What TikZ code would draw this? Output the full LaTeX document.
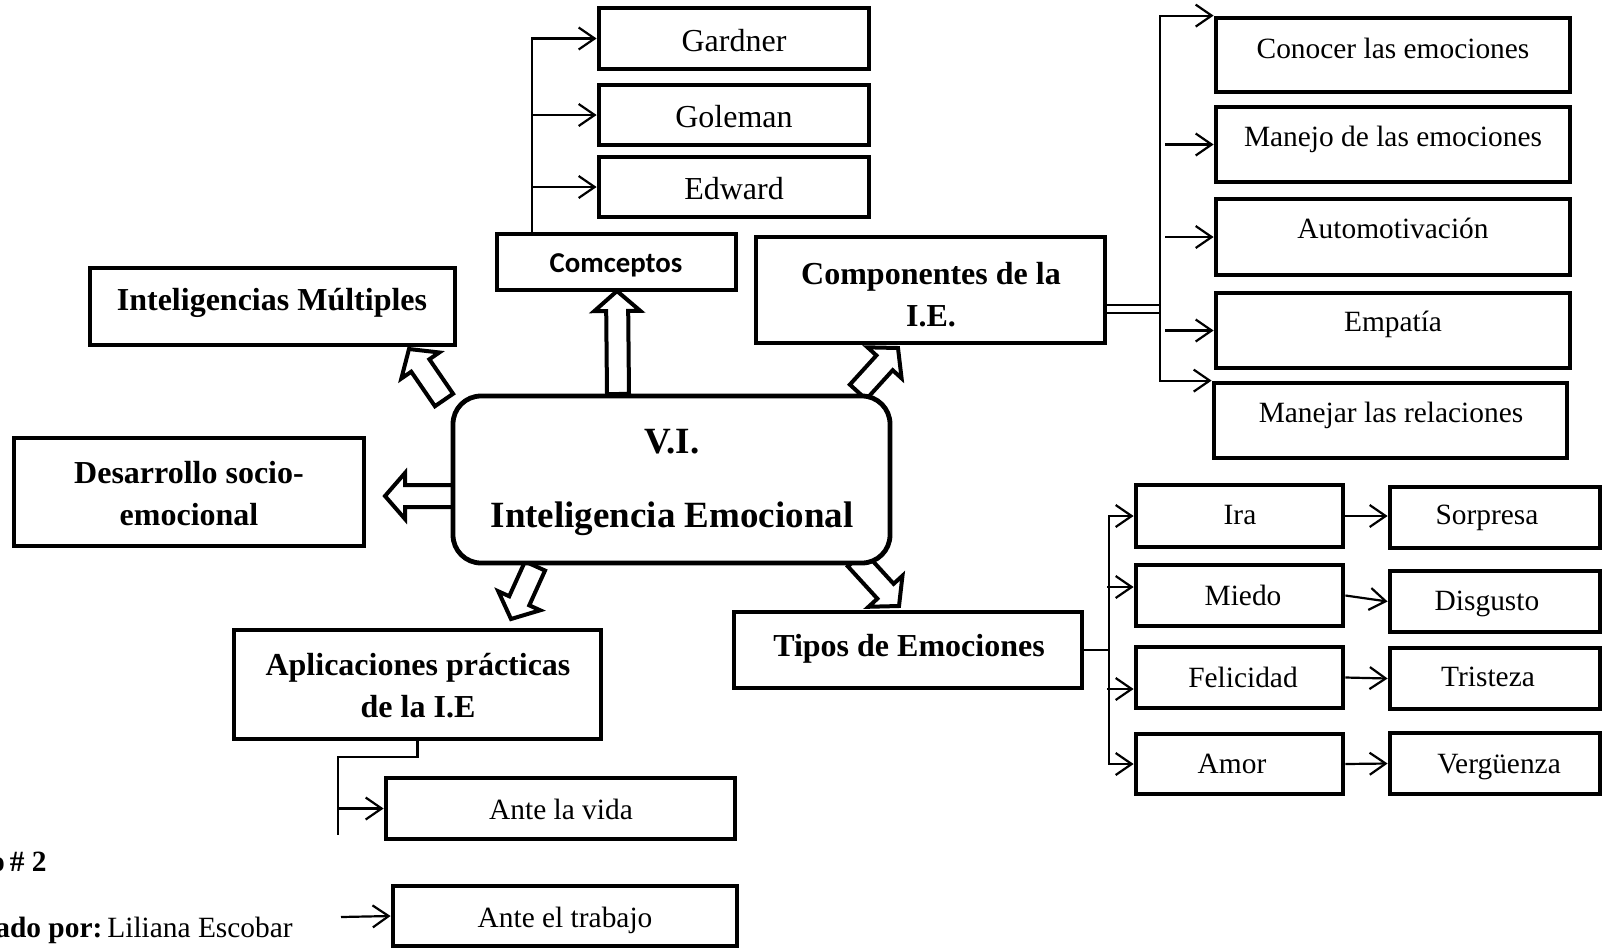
\documentclass[tikz,border=0pt]{standalone}
\usepackage{fontspec}
\setmainfont{Liberation Serif}
\newfontfamily\calibfont{Carlito}
\usetikzlibrary{calc,fit,arrows.meta}
\newcommand{\hollowarrow}[2]{%
  \coordinate (hbx) at ($(#2)!10pt!(#1)$);
  \draw[harr] ($(#1)!5.5pt!90:(#2)$) -- ($(hbx)!5.5pt!90:(#2)$) -- ($(hbx)!11.5pt!90:(#2)$) -- (#2)
     -- ($(hbx)!11.5pt!-90:(#2)$) -- ($(hbx)!5.5pt!-90:(#2)$) -- ($(#1)!5.5pt!-90:(#2)$) -- cycle;}
\begin{document}
\begin{tikzpicture}[x=0.5pt,y=-0.5pt,
  box/.style={draw, line width=2.4pt, inner sep=0pt, fill=white},
  ln/.style={line width=1.1pt},
  arr/.style={line width=1.1pt, -{Straight Barb[length=8pt,width=11pt]}},
  dbl/.style={double, line width=0.9pt, double distance=3.4pt},
  harr/.style={draw, fill=white, line width=2pt, line join=miter},
  nt/.style={inner sep=0pt, text depth=0pt, font=\fontsize{14.7}{17}\selectfont},
  bt/.style={inner sep=0pt, text depth=0pt, font=\fontsize{16}{19}\selectfont},
  bb/.style={inner sep=0pt, text depth=0pt, align=center, font=\bfseries\fontsize{16}{21}\selectfont},
  mt/.style={inner sep=0pt, text depth=0pt, font=\bfseries\fontsize{18.5}{22}\selectfont},
  ct/.style={inner sep=0pt, text depth=0pt, font=\calibfont\bfseries\fontsize{14.4}{17}\selectfont}]
\useasboundingbox (0,0) rectangle (1605,948);

% hollow arrows from the central node
\coordinate (a1s) at (618,394); \coordinate (a1e) at (617,291);
\coordinate (a2s) at (444,400); \coordinate (a2e) at (409,349);
\coordinate (a3s) at (458,496); \coordinate (a3e) at (385,496);
\coordinate (a4s) at (858,392); \coordinate (a4e) at (898,348);
\coordinate (a5s) at (535,566); \coordinate (a5e) at (511,619);
\coordinate (a6s) at (856,559); \coordinate (a6e) at (899,606);
\hollowarrow{a1s}{a1e}
\hollowarrow{a2s}{a2e}
\hollowarrow{a3s}{a3e}
\hollowarrow{a4s}{a4e}
\hollowarrow{a5s}{a5e}
\hollowarrow{a6s}{a6e}

% central node
\node[box, rounded corners=14pt, fit={(453,396)(890,563)}] (ie) {};
\node[mt] (vi) at (672,441) {V.I.};
\node[mt] (ien) at (672,515) {Inteligencia Emocional};

% left side
\node[box, fit={(90,268)(455,345)}] (im) {};
\node[bb] (imt) at (272,299) {Inteligencias Múltiples};
\node[box, fit={(14,438)(364,546)}] (des) {};
\node[bb] (dest) at (189,493) {Desarrollo socio-\\emocional};
\node[box, fit={(234,630)(601,739)}] (apl) {};
\node[bb] (aplt) at (418,685) {Aplicaciones prácticas\\de la I.E};
\node[box, fit={(386,778)(735,839)}] (vid) {};
\node[nt] (vidt) at (561,809) {Ante la vida};
\node[box, fit={(393,886)(737,946)}] (tra) {};
\node[nt] (trat) at (565,917) {Ante el trabajo};

% conceptos
\node[box, fit={(497,234)(736,290)}] (comc) {};
\node[ct] (comct) at (616,263) {Comceptos};
\node[box, fit={(599,8)(869,69)}] (gar) {};
\node[bt] (gart) at (734,40) {Gardner};
\node[box, fit={(599,85)(869,145)}] (gol) {};
\node[bt] (golt) at (734,116) {Goleman};
\node[box, fit={(599,157)(869,217)}] (edw) {};
\node[bt] (edwt) at (734,188) {Edward};

% componentes
\node[box, fit={(756,237)(1105,343)}] (comp) {};
\node[bb] (compt) at (931,294) {Componentes de la\\I.E.};
\node[box, fit={(1216,18)(1570,92)}] (con) {};
\node[nt] (cont) at (1393,48) {Conocer las emociones};
\node[box, fit={(1216,107)(1570,182)}] (man) {};
\node[nt] (mant) at (1393,136) {Manejo de las emociones};
\node[box, fit={(1216,199)(1570,275)}] (aut) {};
\node[nt] (autt) at (1393,228) {Automotivación};
\node[box, fit={(1216,293)(1570,368)}] (emp) {};
\node[nt] (empt) at (1393,321) {Empatía};
\node[box, fit={(1214,383)(1567,458)}] (mnr) {};
\node[nt] (mnrt) at (1391,412) {Manejar las relaciones};

% tipos
\node[box, fit={(734,612)(1082,688)}] (tip) {};
\node[bb] (tipt) at (909,645) {Tipos de Emociones};
\node[box, fit={(1136,485)(1343,547)}] (ira) {};
\node[nt] (irat) at (1240,515) {Ira};
\node[box, fit={(1136,565)(1343,626)}] (mie) {};
\node[nt] (miet) at (1243,595) {Miedo};
\node[box, fit={(1136,647)(1343,708)}] (fel) {};
\node[nt] (felt) at (1243,677) {Felicidad};
\node[box, fit={(1136,734)(1343,794)}] (amo) {};
\node[nt] (amot) at (1232,764) {Amor};
\node[box, fit={(1390,487)(1600,548)}] (sor) {};
\node[nt] (sort) at (1487,515) {Sorpresa};
\node[box, fit={(1390,571)(1600,632)}] (dis) {};
\node[nt] (dist) at (1487,601) {Disgusto};
\node[box, fit={(1390,648)(1600,709)}] (tri) {};
\node[nt] (trit) at (1488,677) {Tristeza};
\node[box, fit={(1390,733)(1600,794)}] (ver) {};
\node[nt] (vert) at (1499,764) {Vergüenza};

% connectors: conceptos
\coordinate (cv) at (532,38);
\draw[arr] (comc.north -| cv) |- (gar.west);
\draw[arr] (cv |- gol.west) -- (gol.west);
\draw[arr] (cv |- edw.west) -- (edw.west);

% connectors: componentes
\coordinate (kj) at (1160,309);
\draw[dbl] (comp.east |- kj) -- (kj);
\draw[arr] (kj) |- (con.north west);
\draw[arr] (kj) |- (mnr.north west);
\draw[arr] ([xshift=2.5pt]kj |- man.west) -- (man.west);
\draw[arr] ([xshift=2.5pt]kj |- aut.west) -- (aut.west);
\draw[arr] ([xshift=2.5pt]kj |- emp.west) -- (emp.west);

% connectors: tipos
\coordinate (tv) at (1109,650);
\draw[ln] (tip.east) -- (tv);
\draw[arr] (tv) |- (ira.west);
\draw[arr] (tv) |- (amo.west);
\draw[arr] ($(tv |- mie.west)+(-2,-8.5)$) -- ($(mie.west)+(0,-8.5)$);
\draw[arr] ($(tv |- fel.west)+(-2,11.5)$) -- ($(fel.west)+(0,11.5)$);
\draw[arr] (ira.east) -- (ira.east -| sor.west);
\draw[arr] (mie.east) -- (dis.west);
\draw[arr] (fel.east) -- (tri.west);
\draw[arr] (amo.east) -- (ver.west);

% connectors: aplicaciones
\coordinate (av) at (338,757);
\coordinate (ae) at (338,835);
\draw[ln] (apl.south) |- (av) -- (ae);
\draw[arr] (av |- vid.west) -- (vid.west);
\coordinate (tb) at (341,917);
\draw[arr] (tb) -- (tra.west);

% footer text
\node[inner sep=0pt, text depth=0pt, anchor=east, font=\bfseries\fontsize{14.7}{17}\selectfont] (fig) at (47,862) {o\hspace{2.5pt}\# 2};
\node[inner sep=0pt, text depth=0pt, anchor=west, font=\fontsize{14.7}{17}\selectfont] (aut2) at (-5,927) {\textbf{ado por:}\hspace{2.5pt}Liliana Escobar};
\end{tikzpicture}
\end{document}
